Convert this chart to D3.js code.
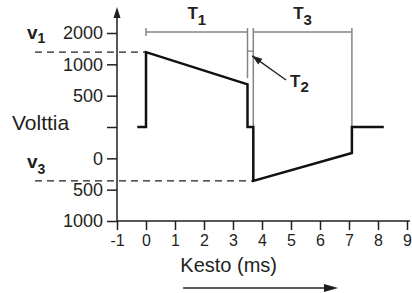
<!DOCTYPE html>
<html>
<head>
<meta charset="utf-8">
<script src="https://cdn.jsdelivr.net/npm/d3@7/dist/d3.min.js"></script>
<style>
  body { margin: 0; background: #fff; }
  svg { display: block; font-family: "Liberation Sans", Arial, sans-serif; }
</style>
</head>
<body>
<svg id="chart" width="412" height="293"></svg>
<script>
// y axis is drawn on "levels": each tick one step, labels as printed on the figure
const yTickLevels = [3, 2, 1, 0, -1, -2, -3];
const yTickLabels = ["2000", "1000", "500", "", "0", "500", "1000"];
const xTicks = [-1, 0, 1, 2, 3, 4, 5, 6, 7, 8, 9];

// pulse shape (ms, level)
const pulseTime  = [-0.3, 0, 0, 3.5, 3.5, 3.7, 3.7, 7.1, 7.1, 8.2];
const pulseLevel = [0, 0, 2.39, 1.36, 0, 0, -1.72, -0.83, 0, 0];

const v1Level = 2.39;
const v3Level = -1.72;
const phaseStarts = [0, 3.5, 3.7, 7.1];   // T1 start, T1 end / T2 start, T3 start, T3 end

const svg = d3.select("#chart");
const ink = "#231f20";
const guide = "#858585";

const x = d3.scaleLinear().domain([-1, 9]).range([117, 407]);
const y = d3.scaleLinear().domain([-3, 3]).range([221, 33]);

const pulse = pulseTime.map((t, i) => ({ t, v: pulseLevel[i] }));

// dashed reference lines for v1 and v3
svg.append("line")
    .attr("x1", 35).attr("x2", x(0))
    .attr("y1", y(v1Level)).attr("y2", y(v1Level))
    .attr("stroke", ink).attr("stroke-width", 1.3)
    .attr("stroke-dasharray", "7,5");

svg.append("line")
    .attr("x1", 35).attr("x2", x(3.7))
    .attr("y1", y(v3Level)).attr("y2", y(v3Level))
    .attr("stroke", ink).attr("stroke-width", 1.3)
    .attr("stroke-dasharray", "7,5");

// phase brackets
const topY = y(3.03);
svg.append("line")
    .attr("x1", x(phaseStarts[0])).attr("x2", x(phaseStarts[1]))
    .attr("y1", topY).attr("y2", topY)
    .attr("stroke", guide).attr("stroke-width", 1.5);
svg.append("line")
    .attr("x1", x(phaseStarts[2])).attr("x2", x(phaseStarts[3]))
    .attr("y1", topY).attr("y2", topY)
    .attr("stroke", guide).attr("stroke-width", 1.5);

const bracketEnds = [
    { t: phaseStarts[0], bottom: y(3.03) + 4 },
    { t: phaseStarts[1], bottom: y(1.56) },
    { t: phaseStarts[2], bottom: y(0) },
    { t: phaseStarts[3], bottom: y(0) }
];
svg.selectAll(".bracket-end")
    .data(bracketEnds)
    .join("line")
    .attr("class", "bracket-end")
    .attr("x1", d => x(d.t)).attr("x2", d => x(d.t))
    .attr("y1", topY - 4).attr("y2", d => d.bottom)
    .attr("stroke", guide).attr("stroke-width", 1.5);

// T2 tiny span
svg.append("line")
    .attr("x1", x(phaseStarts[1])).attr("x2", x(phaseStarts[2]))
    .attr("y1", y(v1Level) - 1).attr("y2", y(v1Level) - 1)
    .attr("stroke", guide).attr("stroke-width", 1.3);

// axes
const yAxis = svg.append("g")
    .attr("transform", `translate(${x(-1)},0)`)
    .call(d3.axisLeft(y)
        .tickValues(yTickLevels)
        .tickFormat((d, i) => yTickLabels[i])
        .tickSize(10)
        .tickPadding(4));
yAxis.select(".domain").remove();
yAxis.selectAll("line").attr("stroke", ink).attr("stroke-width", 1.5);
yAxis.selectAll("text")
    .attr("fill", ink)
    .style("font-size", "18px");

const xAxis = svg.append("g")
    .attr("transform", `translate(0,${y(-3)})`)
    .call(d3.axisBottom(x)
        .tickValues(xTicks)
        .tickFormat(d => String(d))
        .tickSize(9)
        .tickSizeOuter(0)
        .tickPadding(5));
xAxis.select(".domain").remove();
xAxis.selectAll("line").attr("stroke", ink).attr("stroke-width", 1.5);
xAxis.selectAll("text")
    .attr("fill", ink)
    .style("font-size", "16px");

svg.append("line")
    .attr("x1", x(-1)).attr("x2", x(9.1))
    .attr("y1", y(-3)).attr("y2", y(-3))
    .attr("stroke", ink).attr("stroke-width", 1.5);

svg.append("line")
    .attr("x1", x(-1)).attr("x2", x(-1))
    .attr("y1", y(-3)).attr("y2", y(3.6))
    .attr("stroke", ink).attr("stroke-width", 1.5);

const ax = x(-1), ay = y(3.83);
svg.append("path")
    .attr("d", `M${ax},${ay} L${ax - 3.5},${ay + 11} L${ax + 3.5},${ay + 11} Z`)
    .attr("fill", ink);

// pulse
svg.append("path")
    .datum(pulse)
    .attr("fill", "none")
    .attr("stroke", "#111")
    .attr("stroke-width", 2.5)
    .attr("stroke-linejoin", "miter")
    .attr("d", d3.line().x(d => x(d.t)).y(d => y(d.v)));

// T2 pointer arrow
const tail = [x(4.83), y(1.5)];
const tip = [x(3.66), y(2.27)];
svg.append("line")
    .attr("x1", tail[0]).attr("y1", tail[1])
    .attr("x2", tip[0]).attr("y2", tip[1])
    .attr("stroke", ink).attr("stroke-width", 1.3);
const ang = Math.atan2(tip[1] - tail[1], tip[0] - tail[0]);
const headLen = 10, headW = 3.5;
const bx = tip[0] - headLen * Math.cos(ang), by = tip[1] - headLen * Math.sin(ang);
svg.append("path")
    .attr("d", `M${tip[0]},${tip[1]} L${bx - headW * Math.sin(ang)},${by + headW * Math.cos(ang)} L${bx + headW * Math.sin(ang)},${by - headW * Math.cos(ang)} Z`)
    .attr("fill", ink);

// labels with subscripts
function subLabel(px, py, main, sub, anchor, mainSize, subSize, drop) {
    const t = svg.append("text")
        .attr("x", px).attr("y", py)
        .attr("text-anchor", anchor)
        .attr("fill", ink)
        .style("font-weight", "bold")
        .style("font-size", mainSize + "px");
    t.append("tspan").text(main);
    t.append("tspan")
        .attr("dy", drop)
        .style("font-size", subSize + "px")
        .text(sub);
    return t;
}

subLabel((x(phaseStarts[0]) + x(phaseStarts[1])) / 2, topY - 13, "T", "1", "middle", 17, 15, 6);
subLabel((x(phaseStarts[2]) + x(phaseStarts[3])) / 2, topY - 13, "T", "3", "middle", 17, 15, 6);
subLabel(tail[0] + 4, tail[1] + 7, "T", "2", "start", 17, 15, 5);

subLabel(27, y(v1Level) - 13, "v", "1", "start", 19, 14, 4);
subLabel(27, y(v3Level) - 13, "v", "3", "start", 19, 14, 6);

svg.append("text")
    .attr("x", 12).attr("y", y(0) + 3)
    .attr("fill", ink)
    .style("font-size", "21px")
    .text("Volttia");

svg.append("text")
    .attr("x", x(2.85)).attr("y", 272)
    .attr("text-anchor", "middle")
    .attr("fill", ink)
    .style("font-size", "20px")
    .text("Kesto (ms)");

// direction arrow under the x label
const ar0 = x(1.28), ar1 = x(6.62), arY = 288;
svg.append("line")
    .attr("x1", ar0).attr("x2", ar1 - 10)
    .attr("y1", arY).attr("y2", arY)
    .attr("stroke", ink).attr("stroke-width", 1.5);
svg.append("path")
    .attr("d", `M${ar1},${arY} L${ar1 - 14},${arY - 4} L${ar1 - 14},${arY + 4} Z`)
    .attr("fill", ink);
</script>
</body>
</html>
